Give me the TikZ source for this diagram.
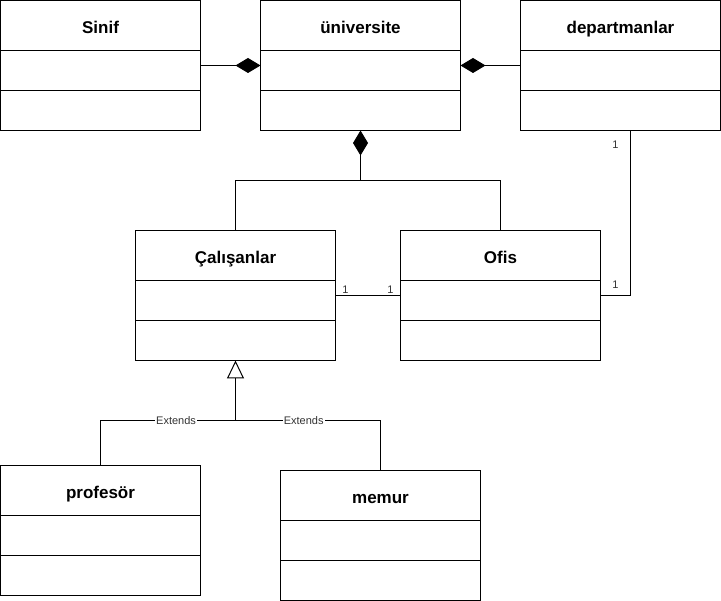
\documentclass[tikz,border=0pt]{standalone}
\usepackage{fontspec}
\setmainfont{Liberation Sans}
\usetikzlibrary{arrows.meta,positioning,fit,calc}
\tikzset{
  classtitle/.style={rectangle, draw, minimum width=200pt, minimum height=50pt, inner sep=0pt, outer sep=0pt, text height=17pt, text depth=1pt, font=\fontsize{17}{20}\selectfont\bfseries}, % class name
  classpart/.style={rectangle, draw, minimum width=200pt, minimum height=40pt, inner sep=0pt, outer sep=0pt}, % attributes / operations
  classbox/.style={inner sep=0pt, outer sep=0pt},
  comp/.style={-{Diamond[length=25pt,width=15pt]}},
  inherit/.style={-{Triangle[open,length=18pt,width=17pt]}},
  mult/.style={font=\fontsize{11}{13}\selectfont, text=black!80, inner sep=0pt},
  extlabel/.style={font=\fontsize{11}{13}\selectfont, text=black!80, fill=white, inner sep=1pt}
}

\begin{document}
\begin{tikzpicture}[x=1pt, y=-1pt, line width=1pt, node distance=0pt]
    \useasboundingbox (-0.5,-0.5) rectangle (720.5,600.5);

    % Classes
    \node [classtitle, anchor=north west] (sinif) at (0,0) {Sinif};
    \node [classpart, below=of sinif] (sinif-attr) {};
    \node [classpart, below=of sinif-attr] (sinif-ops) {};
    \node [classbox, fit=(sinif)(sinif-ops)] (sinif-box) {};

    \node [classtitle, anchor=north west] (universite) at (260,0) {üniversite};
    \node [classpart, below=of universite] (universite-attr) {};
    \node [classpart, below=of universite-attr] (universite-ops) {};
    \node [classbox, fit=(universite)(universite-ops)] (universite-box) {};

    \node [classtitle, anchor=north west] (departmanlar) at (520,0) {departmanlar};
    \node [classpart, below=of departmanlar] (departmanlar-attr) {};
    \node [classpart, below=of departmanlar-attr] (departmanlar-ops) {};
    \node [classbox, fit=(departmanlar)(departmanlar-ops)] (departmanlar-box) {};

    \node [classtitle, anchor=north west] (calisanlar) at (135,230) {Çalışanlar};
    \node [classpart, below=of calisanlar] (calisanlar-attr) {};
    \node [classpart, below=of calisanlar-attr] (calisanlar-ops) {};
    \node [classbox, fit=(calisanlar)(calisanlar-ops)] (calisanlar-box) {};

    \node [classtitle, anchor=north west] (ofis) at (400,230) {Ofis};
    \node [classpart, below=of ofis] (ofis-attr) {};
    \node [classpart, below=of ofis-attr] (ofis-ops) {};
    \node [classbox, fit=(ofis)(ofis-ops)] (ofis-box) {};

    \node [classtitle, anchor=north west] (profesor) at (0,465) {profesör};
    \node [classpart, below=of profesor] (profesor-attr) {};
    \node [classpart, below=of profesor-attr] (profesor-ops) {};

    \node [classtitle, anchor=north west] (memur) at (280,470) {memur};
    \node [classpart, below=of memur] (memur-attr) {};
    \node [classpart, below=of memur-attr] (memur-ops) {};

    % Composition
    \draw[comp] (sinif-box.east) -- (universite-box.west);
    \draw[comp] (departmanlar-box.west) -- (universite-box.east);
    \coordinate (uni-join) at ([yshift=-50pt]universite-box.south);
    \draw[comp] (uni-join) -- (universite-box.south);
    \draw (calisanlar.north) |- (uni-join) -| (ofis.north);

    % Associations
    \draw (calisanlar-box.east) -- node[mult, at start, xshift=10pt, yshift=5.5pt] {1}
          node[mult, at end, xshift=-10pt, yshift=5.5pt] {1} (ofis-box.west);
    \draw ([xshift=10pt]departmanlar-box.south) |- node[mult, at start, xshift=-15pt, yshift=-14.5pt] {1}
          node[mult, at end, xshift=15pt, yshift=10.5pt] {1} (ofis-box.east);

    % Inheritance
    \coordinate (ext-join) at ([yshift=-60pt]calisanlar-box.south);
    \draw[inherit] (ext-join) -- (calisanlar-box.south);
    \draw (profesor.north) |- node[extlabel, pos=0.78] {Extends} (ext-join);
    \draw (memur.north) |- node[extlabel, pos=0.765] {Extends} (ext-join);

\end{tikzpicture}
\end{document}
